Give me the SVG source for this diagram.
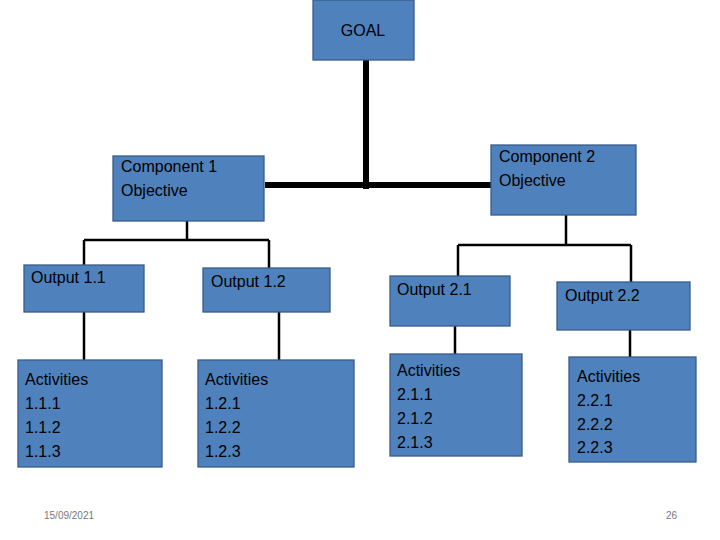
<svg xmlns="http://www.w3.org/2000/svg" width="720" height="540" viewBox="0 0 720 540">
<style>
.b{fill:#4f81bd;stroke:#385d8a;stroke-width:1.3}
.t{font-family:"Liberation Sans",Arial,sans-serif;font-size:16px;fill:#000}
.f{font-family:"Liberation Sans",Arial,sans-serif;font-size:10px;fill:#777}
.thin{stroke:#000;stroke-width:2.5;fill:none}
.thick{stroke:#000;stroke-width:6;fill:none}
</style>
<rect width="720" height="540" fill="#fff"/>
<g id="connectors">
<path class="thick" d="M366,60V189M265,185H496"/>
<path class="thin" d="M187,221V240M84,240H269M84,240V265M269,240V268"/>
<path class="thin" d="M566,215V245M458,245H631M458,245V276M631,245V282"/>
<path class="thin" d="M84,312V360M279,312V360M455,326V354M630,330V357"/>
</g>
<g id="goal"><rect class="b" x="313" y="0" width="101" height="60"/><text class="t" x="363" y="36" text-anchor="middle">GOAL</text></g>
<g id="comp1"><rect class="b" x="113" y="156" width="151" height="65"/><text class="t" x="121" y="172">Component 1</text><text class="t" x="121" y="196">Objective</text></g>
<g id="comp2"><rect class="b" x="491" y="145" width="145" height="70"/><text class="t" x="499" y="162">Component 2</text><text class="t" x="499" y="186">Objective</text></g>
<g id="out11"><rect class="b" x="24" y="265" width="120" height="47"/><text class="t" x="31" y="283">Output 1.1</text></g>
<g id="out12"><rect class="b" x="203" y="268" width="127" height="44"/><text class="t" x="211" y="287">Output 1.2</text></g>
<g id="out21"><rect class="b" x="390" y="276" width="120" height="50"/><text class="t" x="397" y="295">Output 2.1</text></g>
<g id="out22"><rect class="b" x="557" y="282" width="133" height="48"/><text class="t" x="565" y="301">Output 2.2</text></g>
<g id="act11"><rect class="b" x="18" y="360" width="144" height="107"/><text class="t" x="25" y="385">Activities</text><text class="t" x="25" y="409">1.1.1</text><text class="t" x="25" y="433">1.1.2</text><text class="t" x="25" y="457">1.1.3</text></g>
<g id="act12"><rect class="b" x="198" y="360" width="156" height="107"/><text class="t" x="205" y="385">Activities</text><text class="t" x="205" y="409">1.2.1</text><text class="t" x="205" y="433">1.2.2</text><text class="t" x="205" y="457">1.2.3</text></g>
<g id="act21"><rect class="b" x="390" y="354" width="132" height="102"/><text class="t" x="397" y="376">Activities</text><text class="t" x="397" y="400">2.1.1</text><text class="t" x="397" y="424">2.1.2</text><text class="t" x="397" y="448">2.1.3</text></g>
<g id="act22"><rect class="b" x="569" y="357" width="127" height="105"/><text class="t" x="577" y="382">Activities</text><text class="t" x="577" y="406">2.2.1</text><text class="t" x="577" y="430">2.2.2</text><text class="t" x="577" y="453">2.2.3</text></g>
<text class="f" x="44" y="519">15/09/2021</text>
<text class="f" x="666" y="519">26</text>
</svg>
